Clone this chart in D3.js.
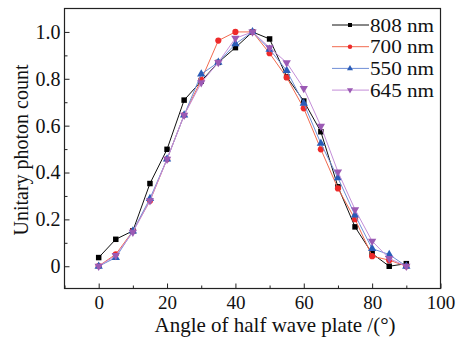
<!DOCTYPE html>
<html>
<head>
<meta charset="utf-8">
<script src="https://cdn.jsdelivr.net/npm/d3@7"></script>
<style>
  body { margin: 0; background: #fff; }
  text { font-family: "Liberation Serif", "Times New Roman", serif; fill: #111; }
</style>
</head>
<body>
<div id="chart"></div>
<script>

// Angle of half wave plate (degrees)
var angles = [0, 5, 10, 15, 20, 25, 30, 35, 40, 45, 50, 55, 60, 65, 70, 75, 80, 85, 90];

// Normalised photon counts for each wavelength
var nm808 = [0.037, 0.115, 0.151, 0.353, 0.499, 0.709, 0.790, 0.870, 0.933, 1.000, 0.970, 0.809, 0.705, 0.574, 0.339, 0.168, 0.054, 0.000, 0.011];
var nm700 = [0.001, 0.051, 0.150, 0.279, 0.457, 0.645, 0.795, 0.963, 1.000, 1.000, 0.909, 0.806, 0.674, 0.499, 0.332, 0.201, 0.043, 0.026, 0.000];
var nm550 = [0.000, 0.037, 0.150, 0.289, 0.457, 0.645, 0.820, 0.870, 0.949, 1.000, 0.926, 0.835, 0.695, 0.524, 0.377, 0.218, 0.075, 0.050, 0.000];
var nm645 = [0.000, 0.046, 0.145, 0.280, 0.457, 0.645, 0.783, 0.870, 0.973, 1.000, 0.933, 0.869, 0.759, 0.598, 0.403, 0.242, 0.107, 0.033, 0.000];

var seriesNames = ['808 nm', '700 nm', '550 nm', '645 nm'];

var xTicks = [0, 20, 40, 60, 80, 100];
var yTicks = [0, 0.2, 0.4, 0.6, 0.8, 1.0];
var yTickLabels = ['0', '0.2', '0.4', '0.6', '0.8', '1.0'];

var width = 458, height = 337;

var svg = d3.select('#chart').append('svg')
  .attr('width', width)
  .attr('height', height);

var x = d3.scaleLinear().domain([-10, 100]).range([64.5, 440.5]);
var y = d3.scaleLinear().domain([-0.095, 1.1]).range([288.5, 8.5]);

// styles per series
var styles = [
  {line: '#111111', fill: '#000000', shape: d3.symbolSquare, size: 30},
  {line: '#f26a4f', fill: '#ee2a2a', shape: d3.symbolCircle, size: 30},
  {line: '#6f8fd6', fill: '#2a5cb8', shape: d3.symbolTriangle, size: 30},
  {line: '#c48ed8', fill: '#9b5ab4', shape: d3.symbolTriangle, size: 30, down: true}
];

var allSeries = [nm808, nm700, nm550, nm645];

/////////// Frame and ticks ///////////

svg.append('rect')
  .attr('x', x(-10))
  .attr('y', y(1.1))
  .attr('width', x(100) - x(-10))
  .attr('height', y(-0.095) - y(1.1))
  .attr('fill', 'none')
  .attr('stroke', '#222')
  .attr('stroke-width', 1.2);

var xAxis = d3.axisBottom(x)
  .tickValues(xTicks)
  .tickSize(-5)
  .tickPadding(7)
  .tickFormat(d3.format('d'));

var gx = svg.append('g')
  .attr('transform', 'translate(0,' + y(-0.095) + ')')
  .call(xAxis);
gx.select('.domain').remove();

var gxMinor = svg.append('g')
  .attr('transform', 'translate(0,' + y(-0.095) + ')')
  .call(d3.axisBottom(x).tickValues([-10, 10, 30, 50, 70, 90]).tickSize(-3).tickFormat(''));
gxMinor.select('.domain').remove();

var yAxis = d3.axisLeft(y)
  .tickValues(yTicks)
  .tickSize(-5)
  .tickPadding(4)
  .tickFormat(function(d, i) { return yTickLabels[i]; });

var gy = svg.append('g')
  .attr('transform', 'translate(' + x(-10) + ',0)')
  .call(yAxis);
gy.select('.domain').remove();

var gyMinor = svg.append('g')
  .attr('transform', 'translate(' + x(-10) + ',0)')
  .call(d3.axisLeft(y).tickValues([0.1, 0.3, 0.5, 0.7, 0.9]).tickSize(-3).tickFormat(''));
gyMinor.select('.domain').remove();

svg.selectAll('.tick line').attr('stroke', '#222');
gy.selectAll('.tick text').attr('font-size', 20);
gx.selectAll('.tick text').attr('font-size', 19);

// axis titles
svg.append('text')
  .attr('x', 275)
  .attr('y', 332)
  .attr('text-anchor', 'middle')
  .attr('font-size', 21)
  .text('Angle of half wave plate /(°)');

svg.append('text')
  .attr('transform', 'translate(28,150) rotate(-90)')
  .attr('text-anchor', 'middle')
  .attr('font-size', 20)
  .text('Unitary photon count');

/////////// Series ///////////

var line = d3.line()
  .x(function(d) { return x(d[0]); })
  .y(function(d) { return y(d[1]); });

function markerPath(st, size) {
  return d3.symbol().type(st.shape).size(size)();
}

allSeries.forEach(function(vals, s) {
  var st = styles[s];
  var pts = angles.map(function(a, i) { return [a, vals[i]]; });

  svg.append('path')
    .datum(pts)
    .attr('d', line)
    .attr('fill', 'none')
    .attr('stroke', st.line)
    .attr('stroke-width', 1);

  svg.append('g').selectAll('path')
    .data(pts)
    .enter()
      .append('path')
      .attr('d', markerPath(st, st.size))
      .attr('transform', function(d) {
        return 'translate(' + x(d[0]) + ',' + y(d[1]) + ')' + (st.down ? ' rotate(180)' : '');
      })
      .attr('fill', st.fill);
});

/////////// Legend ///////////

var legend = svg.append('g');

seriesNames.forEach(function(name, i) {
  var st = styles[i];
  var ly = 25 + i * 21.7;
  legend.append('line')
    .attr('x1', 332).attr('x2', 369)
    .attr('y1', ly).attr('y2', ly)
    .attr('stroke', st.line)
    .attr('stroke-width', 1);
  legend.append('path')
    .attr('d', markerPath(st, 16))
    .attr('transform', 'translate(350,' + ly + ')' + (st.down ? ' rotate(180)' : ''))
    .attr('fill', st.fill);
  legend.append('text')
    .attr('x', 370)
    .attr('y', ly + 6.5)
    .attr('font-size', 19.5)
    .attr('textLength', 64)
    .attr('lengthAdjust', 'spacingAndGlyphs')
    .text(name);
});

</script>
</body>
</html>
